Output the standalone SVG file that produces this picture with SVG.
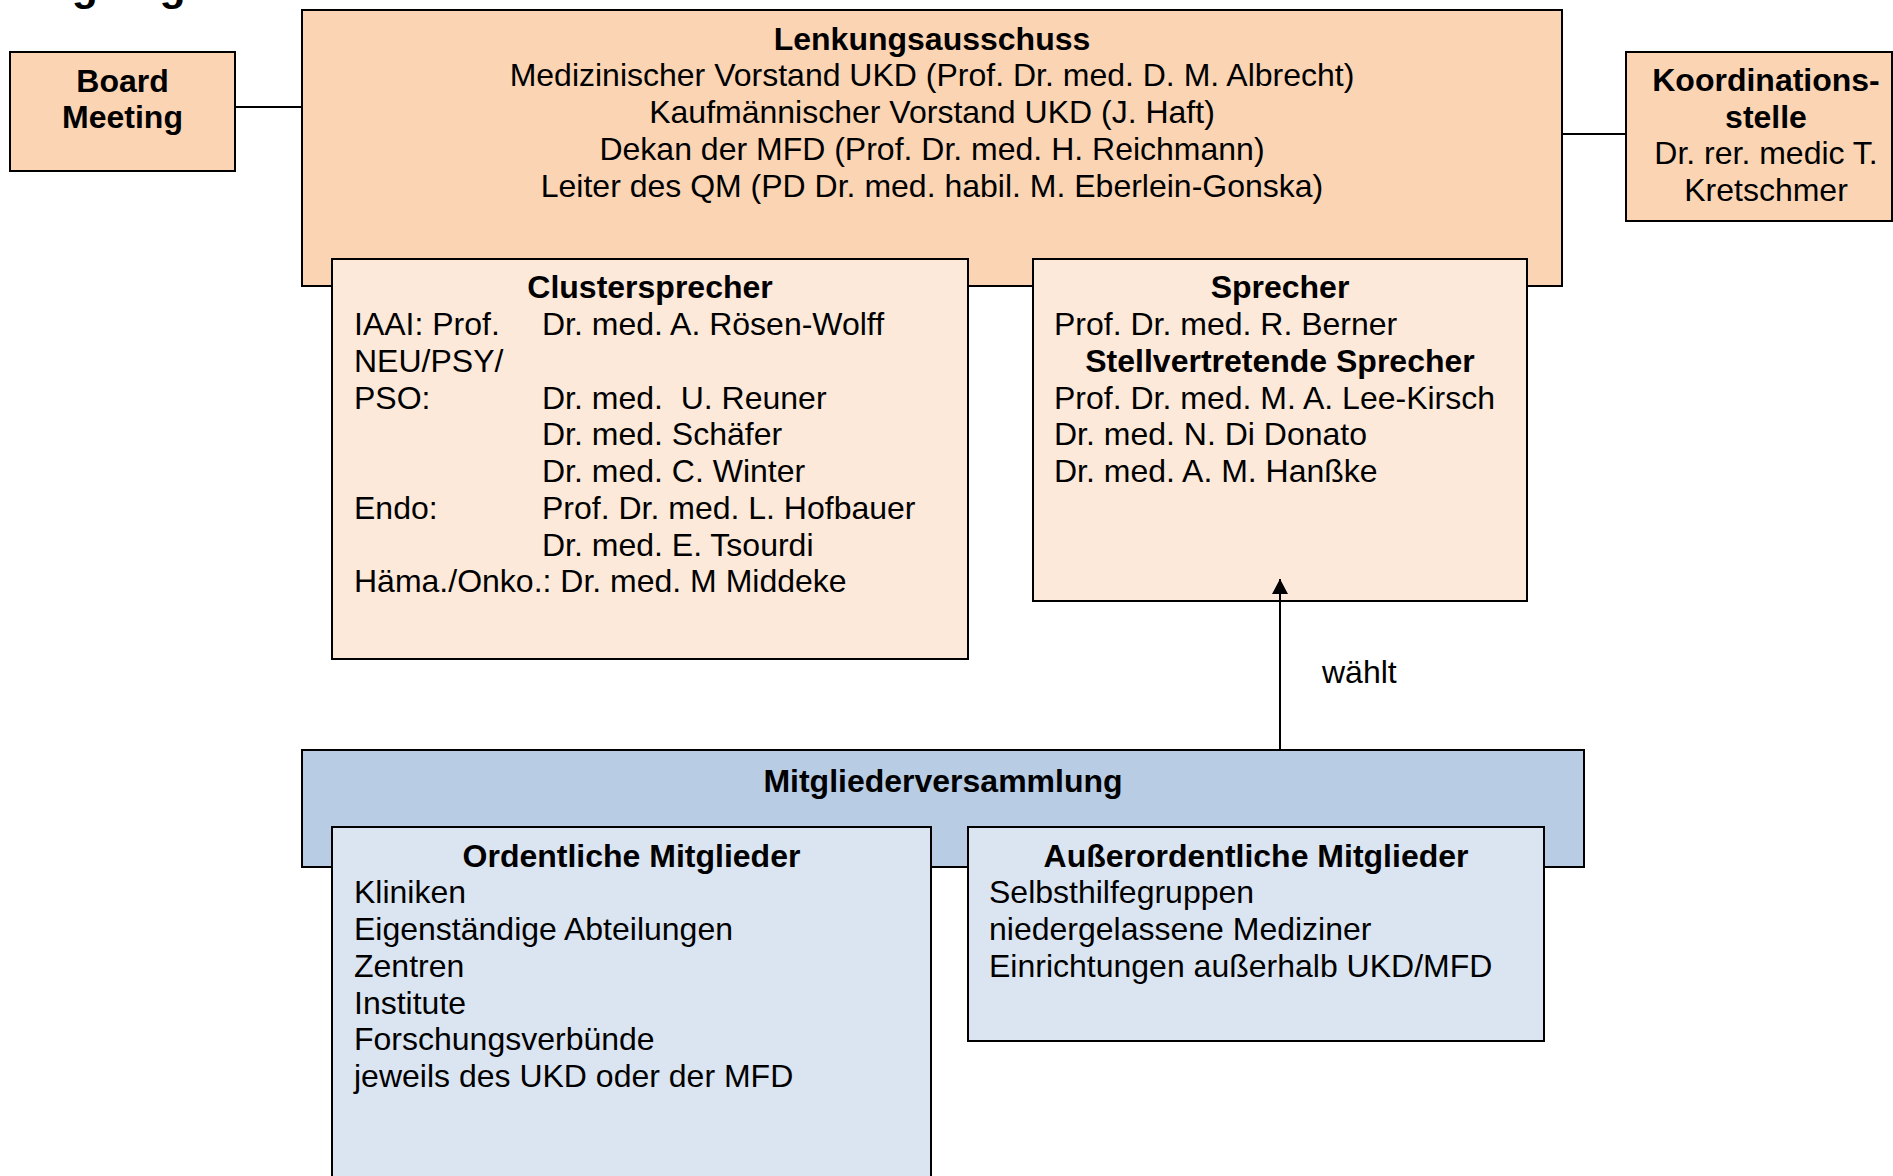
<svg xmlns="http://www.w3.org/2000/svg" width="1893" height="1176" viewBox="0 0 1893 1176">
<defs>
<style>
text{font-family:"Liberation Sans",Arial,sans-serif;font-size:32px;fill:#000}
.b{font-weight:bold}
.c{text-anchor:middle}
.box{stroke:#000;stroke-width:2}
.o1{fill:#FBD4B4}
.o2{fill:#FDE9D9}
.b1{fill:#B8CCE4}
.b2{fill:#DBE5F1}
.ln{stroke:#000;stroke-width:2;fill:none}
</style>
<marker id="arr" markerWidth="16" markerHeight="16" refX="15" refY="8" orient="auto" markerUnits="userSpaceOnUse">
<path d="M0,0 L15,8 L0,16 Z" fill="#000"/>
</marker>
</defs>
<rect width="1893" height="1176" fill="#fff"/>
<text class="b" x="22" y="0.1" style="font-size:42.7px">Organigramm</text>

<g id="board">
<rect class="box o1" x="10" y="52" width="225" height="119"/>
<text class="b c" x="122.5" y="91.7">Board</text>
<text class="b c" x="122.5" y="128.4">Meeting</text>
</g>

<g id="lenkungsausschuss">
<rect class="box o1" x="302" y="10" width="1260" height="276"/>
<text class="b c" x="932" y="49.5">Lenkungsausschuss</text>
<text class="c" x="932" y="86.3">Medizinischer Vorstand UKD (Prof. Dr. med. D. M. Albrecht)</text>
<text class="c" x="932" y="123">Kaufmännischer Vorstand UKD (J. Haft)</text>
<text class="c" x="932" y="159.8">Dekan der MFD (Prof. Dr. med. H. Reichmann)</text>
<text class="c" x="932" y="196.6">Leiter des QM (PD Dr. med. habil. M. Eberlein-Gonska)</text>
</g>

<g id="koordinationsstelle">
<rect class="box o1" x="1626" y="52" width="266" height="169"/>
<text class="b c" x="1766" y="90.7">Koordinations-</text>
<text class="b c" x="1766" y="127.5">stelle</text>
<text class="c" x="1766" y="164.3">Dr. rer. medic T.</text>
<text class="c" x="1766" y="201">Kretschmer</text>
</g>

<g id="clustersprecher">
<rect class="box o2" x="332" y="259" width="636" height="400"/>
<text class="b c" x="650" y="298">Clustersprecher</text>
<text x="354" y="335">IAAI: Prof.</text>
<text x="542" y="335">Dr. med. A. Rösen-Wolff</text>
<text x="354" y="371.7">NEU/PSY/</text>
<text x="354" y="408.5">PSO:</text>
<text x="542" y="408.5">Dr. med.&#160; U. Reuner</text>
<text x="542" y="445.3">Dr. med. Schäfer</text>
<text x="542" y="482">Dr. med. C. Winter</text>
<text x="354" y="518.8">Endo:</text>
<text x="542" y="518.8">Prof. Dr. med. L. Hofbauer</text>
<text x="542" y="555.6">Dr. med. E. Tsourdi</text>
<text x="354" y="592.4">Häma./Onko.: Dr. med. M Middeke</text>
</g>

<g id="sprecher">
<rect class="box o2" x="1033" y="259" width="494" height="342"/>
<text class="b c" x="1280" y="298">Sprecher</text>
<text x="1054" y="335">Prof. Dr. med. R. Berner</text>
<text class="b c" x="1280" y="371.7">Stellvertretende Sprecher</text>
<text x="1054" y="408.5">Prof. Dr. med. M. A. Lee-Kirsch</text>
<text x="1054" y="445.3">Dr. med. N. Di Donato</text>
<text x="1054" y="482">Dr. med. A. M. Hanßke</text>
</g>

<g id="mitgliederversammlung">
<rect class="box b1" x="302" y="750" width="1282" height="117"/>
<text class="b c" x="943" y="791.5">Mitgliederversammlung</text>
</g>

<g id="ordentliche">
<rect class="box b2" x="332" y="827" width="599" height="360"/>
<text class="b c" x="631.5" y="866.5">Ordentliche Mitglieder</text>
<text x="354" y="903.3">Kliniken</text>
<text x="354" y="940">Eigenständige Abteilungen</text>
<text x="354" y="976.8">Zentren</text>
<text x="354" y="1013.6">Institute</text>
<text x="354" y="1050.4">Forschungsverbünde</text>
<text x="354" y="1087.2">jeweils des UKD oder der MFD</text>
</g>

<g id="ausserordentliche">
<rect class="box b2" x="968" y="827" width="576" height="214"/>
<text class="b c" x="1256" y="866.5">Außerordentliche Mitglieder</text>
<text x="989" y="903.3">Selbsthilfegruppen</text>
<text x="989" y="940">niedergelassene Mediziner</text>
<text x="989" y="976.8">Einrichtungen außerhalb UKD/MFD</text>
</g>

<g id="connectors">
<line class="ln" x1="235" y1="107" x2="302" y2="107"/>
<line class="ln" x1="1562" y1="134" x2="1626" y2="134"/>
<line class="ln" x1="1280" y1="749" x2="1280" y2="579" marker-end="url(#arr)"/>
<text x="1322" y="683">wählt</text>
</g>
</svg>
